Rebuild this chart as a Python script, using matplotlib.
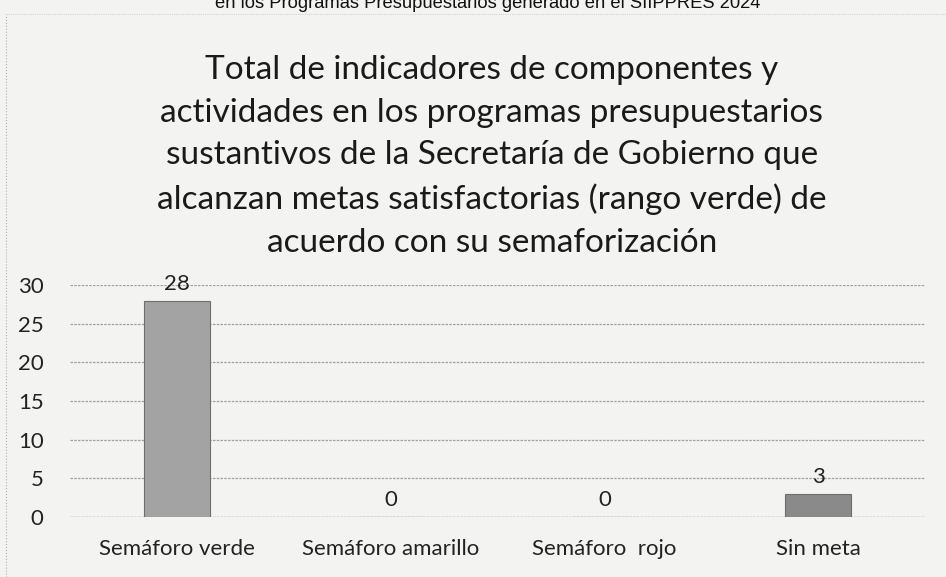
import matplotlib
matplotlib.use("Agg")
import matplotlib.pyplot as plt

categories = ["Semáforo verde", "Semáforo amarillo", "Semáforo  rojo", "Sin meta"]
values = [28, 0, 0, 3]
yticks = [0, 5, 10, 15, 20, 25, 30]
title = ("Total de indicadores de componentes y\n"
         "actividades en los programas presupuestarios\n"
         "sustantivos de la Secretaría de Gobierno que\n"
         "alcanzan metas satisfactorias (rango verde) de\n"
         "acuerdo con su semaforización")
header = "en los Programas Presupuestarios generado en el SIIPPRES 2024"

plt.rcParams['font.family'] = ['Lato', 'DejaVu Sans']
bg = "#f3f3f1"
fig = plt.figure(figsize=(9.46, 5.77), dpi=100, facecolor=bg)
ax = fig.add_axes([0.074, 0.104, 0.904, 0.402])
ax.set_facecolor(bg)

x = range(len(categories))
colors = ["#a3a3a3", "#a3a3a3", "#a3a3a3", "#8a8a8a"]
bars = ax.bar(x, values, width=0.31, color=colors, edgecolor="#6e6e6e", linewidth=0.8, zorder=3)
for xi, v in zip(x, values):
    ax.text(xi, v + 0.9, str(v), ha="center", va="bottom", fontsize=16, color="#222222")

ax.set_xlim(-0.5, len(categories) - 0.5)
ax.set_ylim(0, 30)
ax.set_yticks(yticks)
ax.set_xticks(list(x))
ax.set_xticklabels(categories, fontsize=16, color="#222222")
ax.tick_params(axis="y", labelsize=16, colors="#222222", length=0, pad=19)
ax.tick_params(axis="x", length=0, pad=16)
ax.yaxis.grid(True, color="#a0a0a0", linestyle=(0, (2, 1)), linewidth=0.9, zorder=0)
for s in ax.spines.values():
    s.set_visible(False)
ax.axhline(0, color="#a0a0a0", linestyle=(0, (2, 1)), linewidth=0.9, zorder=1)

fig.text(0.52, 0.904, title, ha="center", va="top", fontsize=24, color="#1a1a1a", linespacing=1.52)
fig.text(0.515, 0.987, header, ha="center", va="baseline", fontsize=13.2, color="#111111", family="Liberation Sans")
fig.add_artist(plt.Line2D([0.006, 0.006], [0.0, 0.975], transform=fig.transFigure, color="#b0b0b0", linestyle=":", linewidth=0.8))
fig.add_artist(plt.Line2D([0.006, 1.0], [0.975, 0.975], transform=fig.transFigure, color="#c0c0c0", linestyle=":", linewidth=0.6))

fig.savefig("out.png", dpi=100, facecolor=bg)
